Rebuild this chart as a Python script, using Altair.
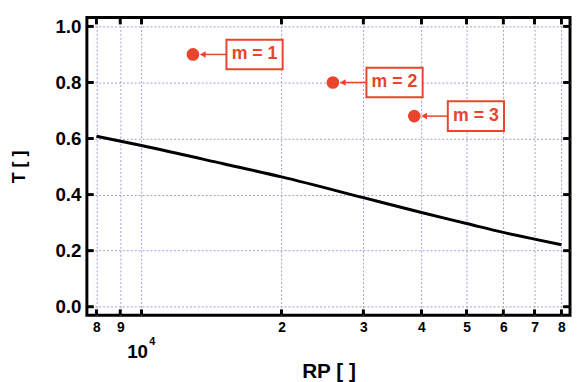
import altair as alt
import pandas as pd

# ---- data ----
rp = [8000, 10000, 15000, 20000, 30000, 40000, 50000, 60000, 70000, 80000]
t = [0.608, 0.575, 0.510, 0.463, 0.389, 0.336, 0.297, 0.265, 0.241, 0.221]

m_labels = ["m = 1", "m = 2", "m = 3"]
m_rp = [12900, 25800, 38600]
m_t = [0.90, 0.80, 0.68]

x_tick_values = [8000, 9000, 10000, 20000, 30000, 40000, 50000, 60000, 70000, 80000]
y_tick_values = [0.0, 0.2, 0.4, 0.6, 0.8, 1.0]
decade_value = [10000]
decade_base = ["10"]
decade_exp = ["4"]

W, H = 490, 302
RED = "#e8452c"
FONT = "Liberation Sans"
GRID = "#9d9dd2"

line_df = pd.DataFrame({"RP": rp, "T": t})
m_df = pd.DataFrame({"RP": m_rp, "T": m_t, "label": m_labels})
xt_df = pd.DataFrame({"RP": x_tick_values})
yt_df = pd.DataFrame({"T": y_tick_values})
dec_df = pd.DataFrame({"RP": decade_value, "b": decade_base, "e": decade_exp})

xscale = alt.Scale(type="log", domain=[7630, 83470], nice=False)
yscale = alt.Scale(domain=[-0.0306, 1.0317], nice=False, zero=False)

xaxis = alt.Axis(
    values=x_tick_values,
    labelExpr="datum.value == 10000 ? '' : substring(toString(datum.value), 0, 1)",
    labelFont=FONT, labelFontSize=14, labelFontWeight="bold", labelColor="black",
    labelPadding=5, labelOverlap=False, labelFlush=False,
    ticks=False, domain=False, grid=True,
    gridColor=GRID, gridDash=[2, 2], gridWidth=1,
    titleFont=FONT, titleFontSize=21, titleFontWeight="bold",
    titleColor="black", titlePadding=27,
)
yaxis = alt.Axis(
    values=y_tick_values, format=".1f",
    labelFont=FONT, labelFontSize=19, labelFontWeight="bold", labelColor="black",
    labelPadding=6, ticks=False, domain=False, grid=True,
    gridColor=GRID, gridDash=[2, 2], gridWidth=1,
    titleFont=FONT, titleFontSize=18, titleFontWeight="bold",
    titleColor="black", titlePadding=27,
)


def X(field="RP"):
    return alt.X(f"{field}:Q", scale=xscale, axis=xaxis, title="RP [ ]")


def Y(field="T"):
    return alt.Y(f"{field}:Q", scale=yscale, axis=yaxis, title="T [ ]")


curve = alt.Chart(line_df).mark_line(color="black", strokeWidth=3, interpolate="monotone").encode(
    x=X(), y=Y(),
)

# inward frame ticks
tick_style = dict(color="black", strokeWidth=3)
left_ticks = alt.Chart(yt_df).mark_rule(**tick_style).encode(
    y=Y(), x=alt.value(0), x2=alt.value(7))
right_ticks = alt.Chart(yt_df).mark_rule(**tick_style).encode(
    y=Y(), x=alt.value(W - 7), x2=alt.value(W))
bottom_ticks = alt.Chart(xt_df).mark_rule(**tick_style).encode(
    x=X(), y=alt.value(H), y2=alt.value(H - 6))
top_ticks = alt.Chart(xt_df).mark_rule(**tick_style).encode(
    x=X(), y=alt.value(0), y2=alt.value(7))

# 10^4 decade label
dec_base = alt.Chart(dec_df).mark_text(
    font=FONT, fontSize=19, fontWeight="bold", color="black", dx=-4, baseline="middle"
).encode(x=X(), y=alt.value(H + 37), text="b:N")
dec_exp = alt.Chart(dec_df).mark_text(
    font=FONT, fontSize=11, fontWeight="bold", color="black", dx=11, baseline="middle"
).encode(x=X(), y=alt.value(H + 27), text="e:N")

# annotations
arrow_line = alt.Chart(m_df).mark_rule(
    color=RED, strokeWidth=1.5, xOffset=9, x2Offset=34
).encode(x=X(), x2="RP:Q", y=Y())
arrow_head = alt.Chart(m_df).mark_point(
    shape="triangle-left", filled=True, color=RED, opacity=1, size=45, xOffset=10
).encode(x=X(), y=Y())
dots = alt.Chart(m_df).mark_circle(color=RED, opacity=1, size=165).encode(x=X(), y=Y())
boxes = alt.Chart(m_df).mark_rect(
    fill="white", stroke=RED, strokeWidth=2,
    xOffset=34, x2Offset=91, yOffset=-15, y2Offset=15,
).encode(x=X(), x2="RP:Q", y=Y(), y2="T:Q")
texts = alt.Chart(m_df).mark_text(
    font=FONT, fontSize=18, fontWeight="bold", color=RED, xOffset=62.5, baseline="middle"
).encode(x=X(), y=Y(), text="label:N")

chart = alt.layer(
    curve, left_ticks, right_ticks, bottom_ticks, top_ticks,
    dec_base, dec_exp, arrow_line, arrow_head, dots, boxes, texts,
).properties(
    width=W, height=H,
    autosize=alt.AutoSizeParams(type="none"),
    padding={"left": 80, "top": 7, "right": 2, "bottom": 65},
).configure(
    background="white",
    view=alt.ViewConfig(stroke="black", strokeWidth=3),
)

chart.save("out.html", embed_options={"renderer": "svg", "actions": False})
